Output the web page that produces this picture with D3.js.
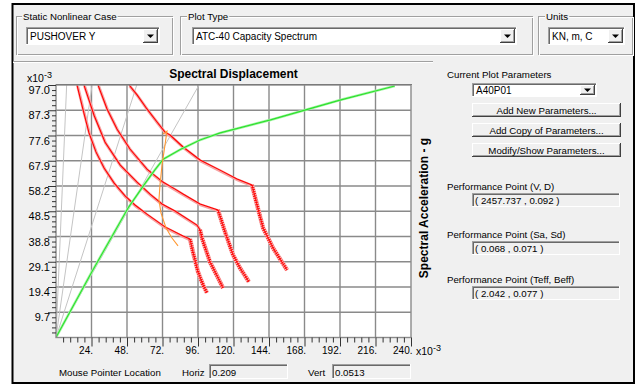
<!DOCTYPE html>
<html>
<head>
<meta charset="utf-8">
<script src="https://cdn.jsdelivr.net/npm/d3@7"></script>
<style>
  html, body { margin: 0; padding: 0; background: #fff; }
  svg { display: block; font-family: "Liberation Sans", Arial, sans-serif; }
</style>
</head>
<body>
<div id="chart"></div>
<script>
'use strict';

// axis ticks (Sd and Sa both shown x10^-3)
const xTicks = [24, 48, 72, 96, 120, 144, 168, 192, 216, 240];
const yTicks = [9.7, 19.4, 29.1, 38.8, 48.5, 58.2, 67.9, 77.6, 87.3, 97.0];

// constant period lines: Sd where each one leaves the top of the plot
const periodLineSd = [7.2, 24.4, 54.6, 96.7];

// capacity spectrum (green)
const capacitySd = [0, 24, 38, 49, 60, 67, 72.5, 84, 97.4, 111, 145, 192, 229];
const capacitySa = [0, 25, 39, 50, 59, 64.5, 68.5, 72.2, 75.9, 78.6, 83.6, 91.2, 96.6];

// demand spectra (red), [Sd, Sa]; the last points are the jagged tail
const demand1 = [[14.2, 97.0], [18.3, 87.4], [22.3, 78.6], [27.0, 71.3], [32.5, 65.1], [39.2, 59.4],
  [46.7, 54.4], [53.4, 50.9], [61.5, 47.4], [73.7, 42.5], [85.9, 39.0], [90.6, 37.8],
  [92.6, 32.8], [96.0, 25.2], [99.4, 20.2], [102.1, 17.1]];
const demand2 = [[18.9, 97.0], [22.3, 91.2], [25.7, 85.4], [33.1, 75.1], [43.3, 66.3], [54.8, 59.7],
  [63.6, 55.1], [71.7, 51.3], [80.5, 48.6], [95.3, 43.2], [97.4, 41.3],
  [98.7, 38.2], [104.1, 29.0], [108.9, 23.6], [112.9, 19.0]];
const demand3 = [[28.4, 97.0], [34.5, 87.8], [41.2, 80.1], [50.0, 72.4], [61.5, 64.7], [72.3, 59.7],
  [80.5, 57.0], [85.9, 55.1], [97.4, 51.3], [107.5, 49.4], [109.5, 49.0],
  [114.3, 40.5], [119.7, 31.7], [124.4, 26.7], [130.5, 21.3]];
const demand4 = [[49.4, 97.0], [54.8, 93.2], [61.5, 87.8], [68.3, 82.8], [73.7, 78.9], [77.1, 77.8],
  [85.9, 73.2], [97.4, 68.2], [110.9, 64.3], [122.4, 60.9], [132.5, 58.6],
  [133.2, 57.0], [136.6, 49.4], [140.0, 42.1], [146.7, 34.4], [156.2, 25.9]];
const demandKnee = [11, 10, 10, 10];

// effective damping locus (orange)
const dampingSd = [72.3, 75.0, 73.7, 71.7, 70.3, 69.6, 71.0, 74.4, 78.4, 82.5];
const dampingSa = [78.2, 79.3, 74.0, 66.3, 58.6, 52.8, 47.8, 42.1, 38.2, 35.2];

// dialog texts
const staticCase = 'PUSHOVER Y';
const plotType = 'ATC-40 Capacity Spectrum';
const units = 'KN, m, C';
const paramName = 'A40P01';
const buttonLabels = ['Add New Parameters...', 'Add Copy of Parameters...', 'Modify/Show Parameters...'];
const perfLabels = ['Performance Point (V, D)', 'Performance Point (Sa, Sd)', 'Performance Point (Teff, Beff)'];
const perfValues = ['( 2457.737 , 0.092 )', '( 0.068 , 0.071 )', '( 2.042 , 0.077 )'];
const mouseHoriz = '0.209';
const mouseVert = '0.0513';

const W = 637, H = 385;
const bg = '#f0f0f0';
const svg = d3.select('#chart').append('svg').attr('width', W).attr('height', H);

svg.append('rect').attr('width', W).attr('height', H).attr('fill', '#fff');
svg.append('rect').attr('x', 12.5).attr('y', 4).attr('width', 621.5).attr('height', 379)
  .attr('fill', bg).attr('stroke', '#000').attr('stroke-width', 2);

function label(g, x, y, text, opts) {
  opts = opts || {};
  return g.append('text').attr('x', x).attr('y', y).text(text)
    .attr('font-size', opts.size || 9.7)
    .attr('font-weight', opts.weight || 'normal')
    .attr('text-anchor', opts.anchor || 'start')
    .attr('fill', '#000');
}

function hline(g, x1, x2, yy, c) {
  g.append('line').attr('x1', x1).attr('x2', x2).attr('y1', yy).attr('y2', yy).attr('stroke', c);
}
function vline(g, xx, y1, y2, c) {
  g.append('line').attr('x1', xx).attr('x2', xx).attr('y1', y1).attr('y2', y2).attr('stroke', c);
}

function sunken(g, bx, by, w, h, fill) {
  g.append('rect').attr('x', bx).attr('y', by).attr('width', w).attr('height', h).attr('fill', fill);
  hline(g, bx, bx + w, by + 0.5, '#a0a0a0');
  vline(g, bx + 0.5, by, by + h, '#a0a0a0');
  hline(g, bx + 1, bx + w - 1, by + 1.5, '#696969');
  vline(g, bx + 1.5, by + 1, by + h - 1, '#696969');
  hline(g, bx, bx + w, by + h - 0.5, '#fff');
  vline(g, bx + w - 0.5, by, by + h, '#fff');
}

function raised(g, bx, by, w, h) {
  g.append('rect').attr('x', bx).attr('y', by).attr('width', w).attr('height', h).attr('fill', bg);
  hline(g, bx, bx + w, by + 0.5, '#fff');
  vline(g, bx + 0.5, by, by + h, '#fff');
  hline(g, bx, bx + w, by + h - 0.5, '#404040');
  vline(g, bx + w - 0.5, by, by + h, '#404040');
  hline(g, bx + 1, bx + w - 1, by + h - 1.5, '#a0a0a0');
  vline(g, bx + w - 1.5, by + 1, by + h - 1, '#a0a0a0');
}

function combo(g, bx, by, w, h, text) {
  sunken(g, bx, by, w, h, '#fff');
  label(g, bx + 4, by + h / 2 + 3.6, text, { size: 10 });
  const bw = 15, bxx = bx + w - bw - 2;
  raised(g, bxx, by + 2, bw, h - 4);
  const cx = bxx + bw / 2, cy = by + h / 2;
  g.append('path').attr('d', `M${cx - 3.5},${cy - 1.5}L${cx + 3.5},${cy - 1.5}L${cx},${cy + 2}Z`).attr('fill', '#000');
}

function groupBox(g, bx, by, w, h, text, tx) {
  g.append('rect').attr('x', bx + 0.5).attr('y', by + 0.5).attr('width', w).attr('height', h)
    .attr('fill', 'none').attr('stroke', '#a0a0a0');
  g.append('rect').attr('x', bx + 1.5).attr('y', by + 1.5).attr('width', w).attr('height', h)
    .attr('fill', 'none').attr('stroke', '#fff');
  const t = label(g, tx, by + 4, text);
  const bb = t.node().getBBox();
  g.insert('rect', () => t.node()).attr('x', bb.x - 1).attr('y', by - 2).attr('width', bb.width + 2).attr('height', 6).attr('fill', bg);
}

const ui = svg.append('g');
groupBox(ui, 16, 16, 156, 38, 'Static Nonlinear Case', 23);
combo(ui, 26, 27, 134, 18, staticCase);
groupBox(ui, 180, 16, 352, 38, 'Plot Type', 188);
combo(ui, 192, 27, 325, 18, plotType);
groupBox(ui, 538, 16, 94, 38, 'Units', 546);
combo(ui, 548, 27, 77, 18, units);

// plot panel separator
hline(ui, 13, 433, 61.5, '#a0a0a0');
hline(ui, 13, 433, 62.5, '#fff');

// ---- chart ----
const x = d3.scaleLinear().domain([0, 240]).range([56, 411]);
const y = d3.scaleLinear().domain([0, 97]).range([337.5, 85]);

const plot = svg.append('g');
plot.append('rect').attr('x', x(0)).attr('y', y(97)).attr('width', x(240) - x(0)).attr('height', y(0) - y(97))
  .attr('fill', '#fff');

svg.append('clipPath').attr('id', 'clip').append('rect')
  .attr('x', x(0)).attr('y', y(97)).attr('width', x(240) - x(0)).attr('height', y(0) - y(97));

plot.append('g').selectAll('line').data(xTicks.slice(0, -1)).enter().append('line')
  .attr('x1', d => x(d)).attr('x2', d => x(d)).attr('y1', y(0)).attr('y2', y(97))
  .attr('stroke', '#8a8a8a').attr('stroke-width', 1.4);
plot.append('g').selectAll('line').data(yTicks.slice(0, -1)).enter().append('line')
  .attr('y1', d => y(d)).attr('y2', d => y(d)).attr('x1', x(0)).attr('x2', x(240))
  .attr('stroke', '#8a8a8a').attr('stroke-width', 1.4);

const curves = plot.append('g').attr('clip-path', 'url(#clip)');

curves.append('g').selectAll('line').data(periodLineSd).enter().append('line')
  .attr('x1', x(0)).attr('y1', y(0)).attr('x2', d => x(d)).attr('y2', y(97))
  .attr('stroke', '#c4c4c4').attr('stroke-width', 1);

const line = d3.line().x(d => x(d[0])).y(d => y(d[1]));

[demand1, demand2, demand3, demand4].forEach((pts, i) => {
  const main = pts.slice(0, demandKnee[i] + 1);
  const tail = pts.slice(demandKnee[i]);
  curves.append('path').attr('d', line(main)).attr('fill', 'none')
    .attr('stroke', '#f6a3a3').attr('stroke-width', 3).attr('transform', 'translate(0.6,1)');
  curves.append('path').attr('d', line(main)).attr('fill', 'none')
    .attr('stroke', '#ff0000').attr('stroke-width', 1.1);
  curves.append('path').attr('d', line(tail)).attr('fill', 'none')
    .attr('stroke', '#f8b4b4').attr('stroke-width', 4.5);
  curves.append('path').attr('d', line(tail)).attr('fill', 'none')
    .attr('stroke', '#ff0000').attr('stroke-width', 3.6).attr('stroke-dasharray', '0.9 1.3');
  curves.append('path').attr('d', line(tail)).attr('fill', 'none')
    .attr('stroke', '#ff0000').attr('stroke-width', 0.9);
});

const capacity = capacitySd.map((d, i) => [d, capacitySa[i]]);
curves.append('path').attr('d', line(capacity)).attr('fill', 'none')
  .attr('stroke', '#a8f5a8').attr('stroke-width', 2.6);
curves.append('path').attr('d', line(capacity)).attr('fill', 'none')
  .attr('stroke', '#2ee02e').attr('stroke-width', 1.1);

const damping = dampingSd.map((d, i) => [d, dampingSa[i]]);
curves.append('path').attr('d', line(damping)).attr('fill', 'none')
  .attr('stroke', '#ff9933').attr('stroke-width', 1.1);

// plot frame
plot.append('rect').attr('x', x(0)).attr('y', y(97)).attr('width', x(240) - x(0)).attr('height', y(0) - y(97))
  .attr('fill', 'none').attr('stroke', '#8a8a8a').attr('stroke-width', 1.4);
hline(plot, x(0), x(240) + 1, y(97) - 0.5, '#7a7a7a');

// axes
const xMinor = d3.range(1, 50).filter(i => i % 5 !== 0).map(i => i * 4.8);
const yMinor = d3.range(1, 50).filter(i => i % 5 !== 0).map(i => i * 1.94);

function styleAxis(g) {
  g.select('.domain').remove();
  g.selectAll('line').attr('stroke', '#333');
  g.attr('font-family', null).attr('font-size', null);
}

const gxMinor = svg.append('g').attr('transform', `translate(0,${y(0)})`)
  .call(d3.axisBottom(x).tickValues(xMinor).tickSize(5).tickFormat(''));
styleAxis(gxMinor);
const gx = svg.append('g').attr('transform', `translate(0,${y(0)})`)
  .call(d3.axisBottom(x).tickValues(xTicks).tickSize(9).tickFormat(d => d + '.'));
styleAxis(gx);
gx.selectAll('text').attr('text-anchor', 'end').attr('x', 1).attr('y', 9)
  .attr('font-size', 10).attr('fill', '#000');

const gyMinor = svg.append('g').attr('transform', `translate(${x(0)},0)`)
  .call(d3.axisLeft(y).tickValues(yMinor).tickSize(4).tickFormat(''));
styleAxis(gyMinor);
const gy = svg.append('g').attr('transform', `translate(${x(0)},0)`)
  .call(d3.axisLeft(y).tickValues(yTicks).tickSize(8).tickFormat(d3.format('.1f')));
styleAxis(gy);
gy.selectAll('text').attr('x', -6).attr('dy', '0.78em')
  .attr('font-size', 11).attr('fill', '#000');

function expLabel(xx, yy) {
  const t = svg.append('text').attr('x', xx).attr('y', yy).attr('font-size', 10.5);
  t.append('tspan').text('x10');
  t.append('tspan').attr('dy', -4).attr('font-size', 9).text('-3');
}
expLabel(27, 82);
expLabel(416, 355);

label(svg, (x(0) + x(240)) / 2, 78, 'Spectral Displacement', { size: 12, weight: 'bold', anchor: 'middle' });
label(svg, 0, 0, 'Spectral Acceleration - g', { size: 12, weight: 'bold', anchor: 'middle' })
  .attr('transform', 'translate(428,208) rotate(-90)');

// mouse pointer location
label(svg, 59, 376, 'Mouse Pointer Location');
label(svg, 182, 376, 'Horiz');
sunken(svg, 209, 364, 79, 15, bg);
label(svg, 212, 375.5, mouseHoriz);
label(svg, 308, 376, 'Vert');
sunken(svg, 332, 364, 79, 15, bg);
label(svg, 335, 375.5, mouseVert);

// right panel
label(svg, 447, 77.5, 'Current Plot Parameters');
combo(svg, 472, 83, 125, 14, paramName);
buttonLabels.forEach((b, i) => {
  const by = 103 + i * 20;
  raised(svg, 472, by, 149, 14);
  label(svg, 546.5, by + 10.5, b, { anchor: 'middle' });
});
const perfY = [193, 241, 286];
perfLabels.forEach((p, i) => {
  label(svg, 447, perfY[i] - 3, p);
  sunken(svg, 472, perfY[i], 148, 14, bg);
  label(svg, 475, perfY[i] + 10.5, perfValues[i]);
});
</script>
</body>
</html>
